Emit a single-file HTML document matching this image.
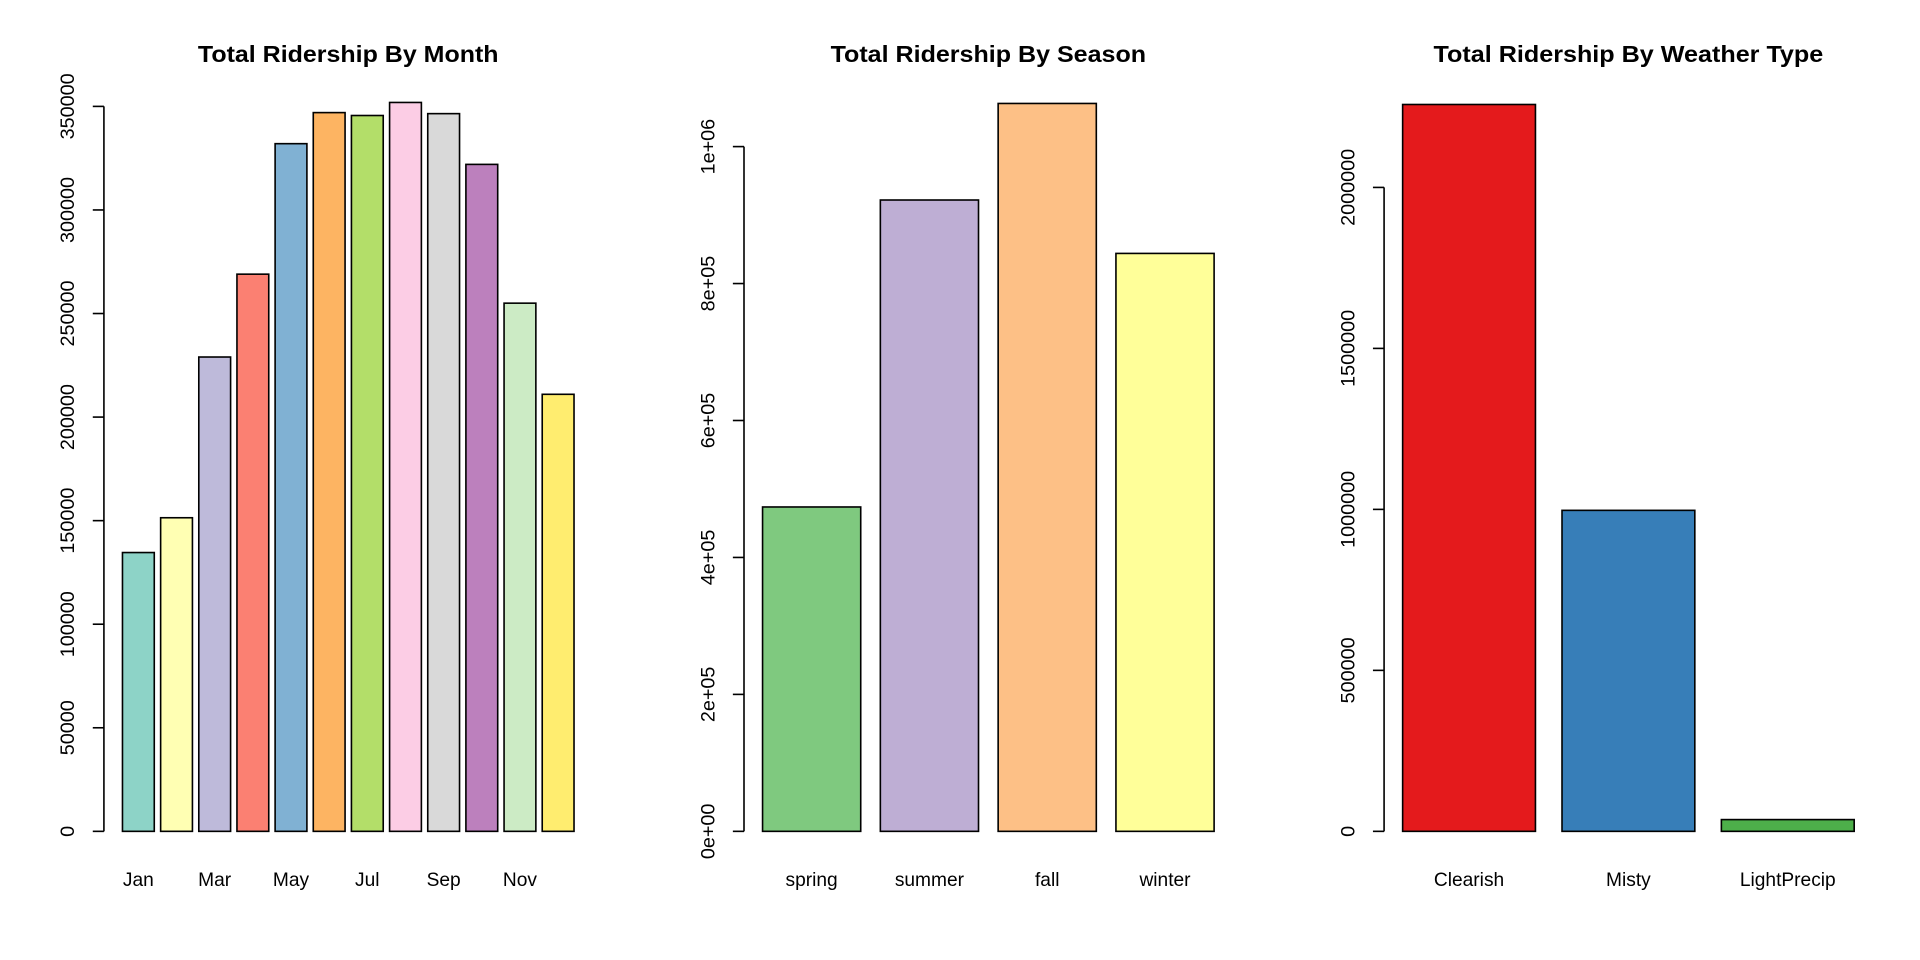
<!DOCTYPE html>
<html><head><meta charset="utf-8"><style>
html,body{margin:0;padding:0;background:#fff;}
svg{display:block;}
text{font-family:"Liberation Sans",Arial,sans-serif;fill:#000;}
</style></head><body>
<svg id="chart" width="1920" height="960" viewBox="0 0 1552 776" preserveAspectRatio="none" xmlns="http://www.w3.org/2000/svg"></svg>
<script>
const monthCategories = ["Jan","Feb","Mar","Apr","May","Jun","Jul","Aug","Sep","Oct","Nov","Dec"];
const monthValues = [134600,151400,229000,269000,332000,347000,345600,351900,346500,322000,255000,211000];
const monthShownLabels = ["Jan","Mar","May","Jul","Sep","Nov"];
const monthTicks = [0,50000,100000,150000,200000,250000,300000,350000];
const monthTickLabels = ["0","50000","100000","150000","200000","250000","300000","350000"];
const monthColors = ["#8DD3C7","#FFFFB3","#BEBADA","#FB8072","#80B1D3","#FDB462","#B3DE69","#FCCDE5","#D9D9D9","#BC80BD","#CCEBC5","#FFED6F"];

const seasonCategories = ["spring","summer","fall","winter"];
const seasonValues = [473700,922000,1063000,844000];
const seasonTicks = [0,200000,400000,600000,800000,1000000];
const seasonTickLabels = ["0e+00","2e+05","4e+05","6e+05","8e+05","1e+06"];
const seasonColors = ["#7FC97F","#BEAED4","#FDC086","#FFFF99"];

const weatherCategories = ["Clearish","Misty","LightPrecip"];
const weatherValues = [2257600,997000,36500];
const weatherTicks = [0,500000,1000000,1500000,2000000];
const weatherTickLabels = ["0","500000","1000000","1500000","2000000"];
const weatherColors = ["#E41A1C","#377EB8","#4DAF4A"];

const svg = document.getElementById('chart');
const NS = "http://www.w3.org/2000/svg";
function mk(tag, attrs, parent){
  const e = document.createElementNS(NS, tag);
  for (const k in attrs) e.setAttribute(k, attrs[k]);
  (parent||svg).appendChild(e);
  return e;
}
const baseY = 672;

function panel(idx, title, titleW, cats, vals, shown, ticks, tickLabels, colors, yRefVal, yRefPx, key){
  const off = idx * 517.4;
  const axisX = 84 + off;
  const left = 99 + off, right = 464 + off;
  const n = cats.length;
  const unit = (right - left) / (n * 1.2 - 0.2);
  const y = v => baseY - v / yRefVal * (baseY - yRefPx);
  const g = mk('g', {});
  
  
  const t = mk('text', {x: (left+right)/2, y: 50, 'text-anchor':'middle', 'font-size':19, 'font-weight':'bold', textLength: titleW, lengthAdjust:'spacingAndGlyphs'}, g);
  t.textContent = title;
  
  
  const ax = mk('line', {x1: axisX, x2: axisX, y1: y(ticks[0]), y2: y(ticks[ticks.length-1]), stroke:'#000', 'stroke-width':1.3}, g);
  
  
  ticks.forEach((tv, i) => {
    const ty = y(tv);
    const tk = mk('line', {x1: axisX-9, x2: axisX, y1: ty, y2: ty, stroke:'#000', 'stroke-width':1.3}, g);
    
    
    const tl = mk('text', {x: 0, y: 0, 'text-anchor':'middle', 'font-size':16, transform:`translate(${axisX-30},${ty}) rotate(-90) translate(0,6)`}, g);
    tl.textContent = tickLabels[i];
    
    
  });
  cats.forEach((c, i) => {
    const bx = left + i * 1.2 * unit;
    const by = y(vals[i]);
    const r = mk('rect', {x: bx, y: by, width: unit, height: baseY - by, fill: colors[i], stroke:'#000', 'stroke-width':1.3}, g);
    
    
    if (shown.indexOf(c) >= 0) {
      const l = mk('text', {x: bx + unit/2, y: 716, 'text-anchor':'middle', 'font-size':15.5}, g);
      l.textContent = c;
      
      
    }
  });
}
panel(0, "Total Ridership By Month", 243, monthCategories, monthValues, monthShownLabels, monthTicks, monthTickLabels, monthColors, 350000, 86, 'month');
panel(1, "Total Ridership By Season", 255, seasonCategories, seasonValues, seasonCategories, seasonTicks, seasonTickLabels, seasonColors, 1000000, 118.5, 'season');
panel(2, "Total Ridership By Weather Type", 315, weatherCategories, weatherValues, weatherCategories, weatherTicks, weatherTickLabels, weatherColors, 2000000, 151.5, 'weather');
</script>
</body></html>
